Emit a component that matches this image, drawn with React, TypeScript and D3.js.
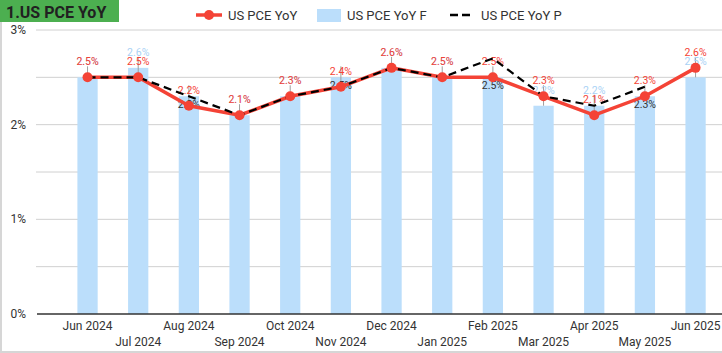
import { scaleBand, scaleLinear, line } from "d3";

const width = 722;
const height = 353;

const months = [
  "Jun 2024", "Jul 2024", "Aug 2024", "Sep 2024", "Oct 2024", "Nov 2024", "Dec 2024",
  "Jan 2025", "Feb 2025", "Mar 2025", "Apr 2025", "May 2025", "Jun 2025",
];
const pceActual = [2.5, 2.5, 2.2, 2.1, 2.3, 2.4, 2.6, 2.5, 2.5, 2.3, 2.1, 2.3, 2.6];
const pceForecast = [2.5, 2.6, 2.3, 2.1, 2.3, 2.5, 2.6, 2.5, 2.5, 2.2, 2.2, 2.3, 2.5];
const pcePrior: (number | null)[] = [2.5, 2.5, 2.3, 2.1, 2.3, 2.4, 2.6, 2.5, 2.7, 2.3, 2.2, 2.4, null];
// months where the forecast label sits inside the bar in dark text
const darkLabelMonths = ["Aug 2024", "Nov 2024", "Feb 2025", "May 2025"];
const yTicks = [0, 1, 2, 3];
const yGrid = [0.5, 1, 1.5, 2, 2.5, 3];

const RED = "#f44336";
const BLUE = "#bbdefb";
const LABEL_BLUE = "#a9d2f5";
const TEXT = "#333";

export default function App() {
  const x = scaleBand<string>()
    .domain(months)
    .range([62.2, 720.9])
    .paddingInner(0.6)
    .paddingOuter(0.3);
  const y = scaleLinear().domain([0, 3]).range([314, 30]);
  const cx = (m: string) => (x(m) ?? 0) + x.bandwidth() / 2;

  const redLine = line<number>()
    .x((_, i) => cx(months[i]))
    .y((d) => y(d));
  const priorLine = line<number | null>()
    .defined((d) => d != null)
    .x((_, i) => cx(months[i]))
    .y((d) => y(d as number));

  const fmt = (v: number) => `${v.toFixed(1)}%`;

  return (
    <svg
      width={width}
      height={height}
      style={{ position: "absolute", left: 0, top: 0, fontFamily: "Roboto, sans-serif" }}
    >
      <rect width={width} height={height} fill="#fff" />
      {/* card border */}
      <line x1={1} x2={1} y1={0} y2={352} stroke="#d6d6d6" strokeWidth={2} />
      <line x1={0} x2={width} y1={352} y2={352} stroke="#d6d6d6" strokeWidth={2} />

      {/* title */}
      <rect x={0} y={0} width={119} height={22} fill="#4caf50" />
      <text x={6} y={18} fontSize={16} fontWeight="bold" fill="#212121">1.US PCE YoY</text>

      {/* legend */}
      <g fontSize={13} fill={TEXT}>
        <line x1={196} x2={222} y1={15} y2={15} stroke={RED} strokeWidth={3.5} />
        <circle cx={209} cy={15} r={5} fill={RED} />
        <text x={228} y={19.5}>US PCE YoY</text>
        <rect x={317} y={9} width={24} height={13} fill={BLUE} />
        <text x={347} y={19.5}>US PCE YoY F</text>
        <line x1={450} x2={474} y1={15} y2={15} stroke="#000" strokeWidth={2.5} strokeDasharray="8,4" />
        <text x={481} y={19.5}>US PCE YoY P</text>
      </g>

      {/* grid */}
      {yGrid.map((t) => (
        <line key={t} x1={36} x2={width} y1={y(t)} y2={y(t)} stroke="#d0d0d0" strokeWidth={1} />
      ))}
      {yTicks.map((t) => (
        <text key={t} x={26} y={y(t) + 4} textAnchor="end" fontSize={12} fill={TEXT}>
          {t}%
        </text>
      ))}

      {/* bars */}
      {months.map((m, i) => (
        <rect
          key={m}
          x={x(m)}
          y={y(pceForecast[i])}
          width={x.bandwidth()}
          height={y(0) - y(pceForecast[i])}
          fill={BLUE}
        />
      ))}

      {/* axis */}
      <line x1={37} x2={width} y1={y(0)} y2={y(0)} stroke="#333" strokeWidth={1.5} />
      {months.map((m, i) => (
        <text
          key={m}
          x={cx(m)}
          y={i % 2 === 0 ? 330 : 346}
          textAnchor="middle"
          fontSize={12}
          fill={TEXT}
        >
          {m}
        </text>
      ))}

      {/* label stems */}
      {months.map((m, i) => {
        const ya = y(pceActual[i]);
        const yf = y(pceForecast[i]);
        return (
          <line
            key={m}
            x1={cx(m)}
            x2={cx(m)}
            y1={Math.min(ya, yf) - 11}
            y2={Math.max(ya, yf)}
            stroke="#9e9e9e"
            strokeWidth={1}
          />
        );
      })}

      {/* forecast labels */}
      {months.map((m, i) => {
        const dark = darkLabelMonths.includes(m);
        return (
          <text
            key={m}
            x={cx(m)}
            y={dark ? y(pceForecast[i]) + 12 : y(pceForecast[i]) - 12}
            textAnchor="middle"
            fontSize={10.5}
            fill={dark ? "#333" : LABEL_BLUE}
          >
            {fmt(pceForecast[i])}
          </text>
        );
      })}

      {/* actual labels */}
      {months.map((m, i) => (
        <text key={m} x={cx(m)} y={y(pceActual[i]) - 12} textAnchor="middle" fontSize={10.5} fill={RED}>
          {fmt(pceActual[i])}
        </text>
      ))}

      {/* lines */}
      <path d={redLine(pceActual) ?? ""} fill="none" stroke={RED} strokeWidth={3.5} />
      <path
        d={priorLine(pcePrior) ?? ""}
        fill="none"
        stroke="#000"
        strokeWidth={2.2}
        strokeDasharray="8,5"
      />
      {months.map((m, i) => (
        <circle key={m} cx={cx(m)} cy={y(pceActual[i])} r={5} fill={RED} />
      ))}
    </svg>
  );
}
